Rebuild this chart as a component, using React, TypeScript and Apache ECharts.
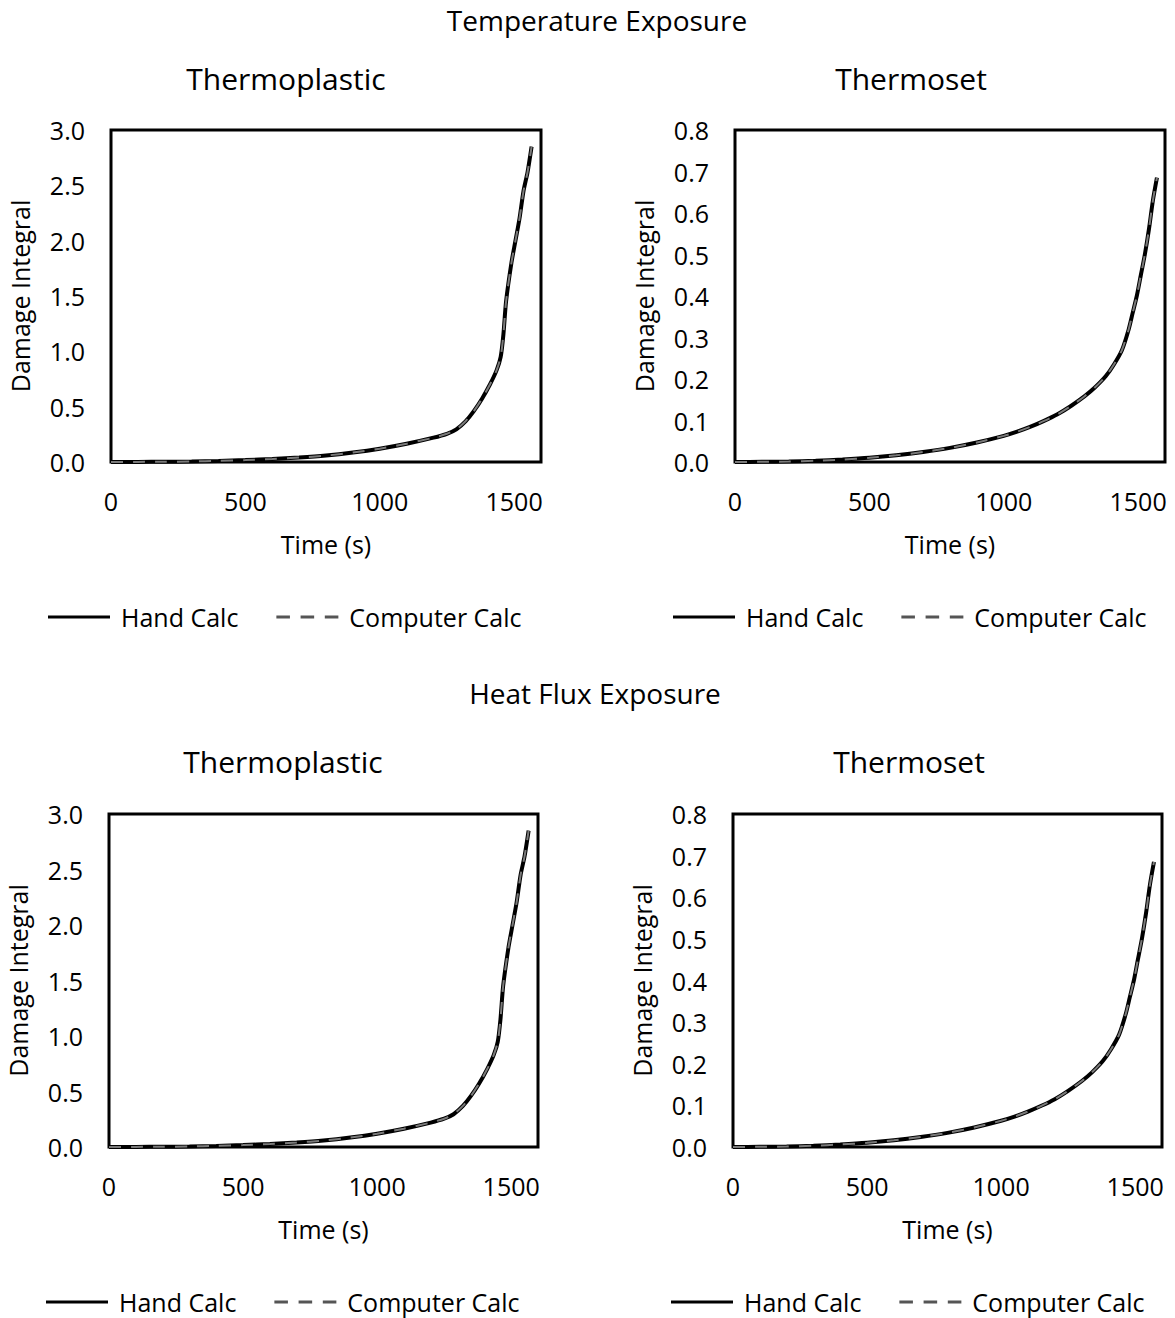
import React, { useEffect, useRef } from "react";
import * as echarts from "echarts";

// ---- Data ----
const plasticTime = [0, 100, 200, 300, 400, 500, 600, 700, 800, 900, 1000, 1100, 1200, 1250, 1285, 1320, 1350, 1380, 1410, 1435, 1450, 1460, 1470, 1490, 1505, 1520, 1535, 1550, 1565];
const plasticDamage = [0, 0.001, 0.002, 0.005, 0.01, 0.017, 0.027, 0.04, 0.058, 0.085, 0.12, 0.165, 0.22, 0.255, 0.295, 0.37, 0.46, 0.57, 0.7, 0.83, 0.95, 1.15, 1.45, 1.8, 2.0, 2.2, 2.45, 2.62, 2.85];

const setTime = [0, 100, 200, 300, 400, 500, 600, 700, 800, 900, 1000, 1050, 1100, 1150, 1200, 1250, 1300, 1340, 1380, 1410, 1440, 1465, 1480, 1495, 1510, 1525, 1540, 1555, 1570];
const setDamage = [0, 0.0005, 0.001, 0.003, 0.006, 0.01, 0.016, 0.024, 0.034, 0.047, 0.063, 0.073, 0.085, 0.099, 0.115, 0.135, 0.158, 0.18, 0.207, 0.235, 0.27, 0.32, 0.36, 0.4, 0.45, 0.5, 0.56, 0.63, 0.685];

// Hand and computer calculations overlap in every panel
const tempPlasticHand = plasticDamage;
const tempPlasticComputer = plasticDamage;
const tempSetHand = setDamage;
const tempSetComputer = setDamage;
const fluxPlasticHand = plasticDamage;
const fluxPlasticComputer = plasticDamage;
const fluxSetHand = setDamage;
const fluxSetComputer = setDamage;

const seriesNames = ["Hand Calc", "Computer Calc"];
const sectionTitles = ["Temperature Exposure", "Heat Flux Exposure"];
const panelTitles = ["Thermoplastic", "Thermoset"];
const xTickStep = 500;
const xMax = 1600;

const FONT = "'Open Sans', sans-serif";
const DASH_ICON = "path://M0,0h14v3h-14z M25,0h14v3h-14z M50,0h14v3h-14z";

const pair = (t: number[], v: number[]) => t.map((x, i) => [x, v[i]]);

export default function App() {
  const ref = useRef<HTMLDivElement>(null);
  useEffect(() => {
    if (!ref.current) return;
    const chart = echarts.init(ref.current, undefined, { renderer: "svg" });

    const panels = [
      { grid: { left: 111, top: 130, width: 430, height: 332 }, yMax: 3.0, yStep: 0.5, t: plasticTime, hand: tempPlasticHand, comp: tempPlasticComputer, legend: { left: 48, top: 603 } },
      { grid: { left: 735, top: 130, width: 430, height: 332 }, yMax: 0.8, yStep: 0.1, t: setTime, hand: tempSetHand, comp: tempSetComputer, legend: { left: 673, top: 603 } },
      { grid: { left: 109, top: 814, width: 429, height: 333 }, yMax: 3.0, yStep: 0.5, t: plasticTime, hand: fluxPlasticHand, comp: fluxPlasticComputer, legend: { left: 46, top: 1288 } },
      { grid: { left: 733, top: 814, width: 429, height: 333 }, yMax: 0.8, yStep: 0.1, t: setTime, hand: fluxSetHand, comp: fluxSetComputer, legend: { left: 671, top: 1288 } },
    ];

    const txt = { color: "#000", fontFamily: FONT, fontSize: 25 };

    const option: any = {
      animation: false,
      backgroundColor: "#fff",
      grid: panels.map((p) => ({ ...p.grid, show: true, borderColor: "#000", borderWidth: 3, containLabel: false })),
      xAxis: panels.map((p, i) => ({
        type: "value",
        gridIndex: i,
        min: 0,
        max: xMax,
        interval: xTickStep,
        name: "Time (s)",
        nameLocation: "middle",
        nameGap: 69,
        nameTextStyle: { ...txt },
        axisLine: { show: false },
        axisTick: { show: false },
        splitLine: { show: false },
        axisLabel: { ...txt, margin: 26, showMaxLabel: false, formatter: (v: number) => (v % xTickStep === 0 ? String(v) : "") },
      })),
      yAxis: panels.map((p, i) => ({
        type: "value",
        gridIndex: i,
        min: 0,
        max: p.yMax,
        interval: p.yStep,
        name: "Damage Integral",
        nameLocation: "middle",
        nameGap: 79,
        nameTextStyle: { ...txt },
        axisLine: { show: false },
        axisTick: { show: false },
        splitLine: { show: false },
        axisLabel: { ...txt, margin: 26, formatter: (v: number) => v.toFixed(1) },
      })),
      legend: panels.map((p) => ({
        left: p.legend.left,
        top: p.legend.top,
        orient: "horizontal",
        itemWidth: 62,
        itemHeight: 3,
        itemGap: 38,
        padding: 0,
        data: [
          { name: seriesNames[0], icon: "rect" },
          { name: seriesNames[1], icon: DASH_ICON },
        ],
        selectedMode: false,
        textStyle: { ...txt, lineHeight: 28, padding: [0, 0, 0, 6] },
      })),
      series: panels.flatMap((p, i) => [
        {
          name: seriesNames[0],
          type: "line",
          xAxisIndex: i,
          yAxisIndex: i,
          data: pair(p.t, p.hand),
          showSymbol: false,
          symbol: "none",
          smooth: 0.25,
          lineStyle: { color: "#000", width: 4 },
          itemStyle: { color: "#000" },
          z: 2,
        },
        {
          name: seriesNames[1],
          type: "line",
          xAxisIndex: i,
          yAxisIndex: i,
          data: pair(p.t, p.comp),
          showSymbol: false,
          symbol: "none",
          smooth: 0.25,
          lineStyle: { color: "#7a7a7a", width: 2, type: [12, 10] },
          itemStyle: { color: "#555" },
          z: 3,
        },
      ]),
      graphic: [
        { type: "text", x: 597, y: 20, style: { text: sectionTitles[0], fill: "#000", font: `28px ${FONT}`, textAlign: "center", textVerticalAlign: "middle" } },
        { type: "text", x: 286, y: 78, style: { text: panelTitles[0], fill: "#000", font: `30px ${FONT}`, textAlign: "center", textVerticalAlign: "middle" } },
        { type: "text", x: 911, y: 78, style: { text: panelTitles[1], fill: "#000", font: `30px ${FONT}`, textAlign: "center", textVerticalAlign: "middle" } },
        { type: "text", x: 595, y: 693, style: { text: sectionTitles[1], fill: "#000", font: `28px ${FONT}`, textAlign: "center", textVerticalAlign: "middle" } },
        { type: "text", x: 283, y: 761, style: { text: panelTitles[0], fill: "#000", font: `30px ${FONT}`, textAlign: "center", textVerticalAlign: "middle" } },
        { type: "text", x: 909, y: 761, style: { text: panelTitles[1], fill: "#000", font: `30px ${FONT}`, textAlign: "center", textVerticalAlign: "middle" } },
      ],
    };

    chart.setOption(option);
    return () => chart.dispose();
  }, []);

  return <div ref={ref} style={{ position: "absolute", left: 0, top: 0, width: 1175, height: 1318 }} />;
}
